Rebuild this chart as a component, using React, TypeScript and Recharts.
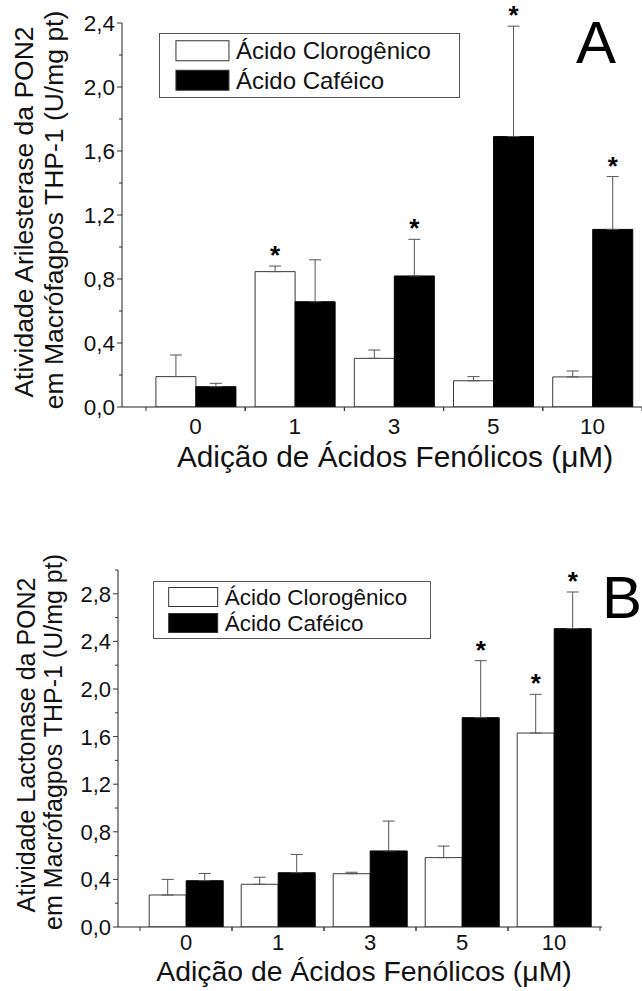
import React from 'react';
import { BarChart, Bar, XAxis, YAxis, ErrorBar, LabelList, Legend } from 'recharts';

const FONT = '"Liberation Sans", Arial, Helvetica, sans-serif';

// concentrations (µM)
const doses = ['0', '1', '3', '5', '10'];

// Panel A - arilesterase
const arilClorogenico = [0.19, 0.846, 0.304, 0.164, 0.188];
const arilClorogenicoErr = [0.135, 0.035, 0.052, 0.026, 0.037];
const arilClorogenicoSig = [false, true, false, false, false];
const arilCafeico = [0.127, 0.658, 0.819, 1.69, 1.11];
const arilCafeicoErr = [0.021, 0.262, 0.229, 0.69, 0.33];
const arilCafeicoSig = [false, false, true, true, true];
const arilTicks = [0, 0.2, 0.4, 0.6, 0.8, 1.0, 1.2, 1.4, 1.6, 1.8, 2.0, 2.2, 2.4];

// Panel B - lactonase
const lactClorogenico = [0.269, 0.359, 0.448, 0.583, 1.63];
const lactClorogenicoErr = [0.131, 0.059, 0.012, 0.097, 0.325];
const lactClorogenicoSig = [false, false, false, false, true];
const lactCafeico = [0.389, 0.456, 0.639, 1.759, 2.507];
const lactCafeicoErr = [0.061, 0.154, 0.251, 0.479, 0.308];
const lactCafeicoSig = [false, false, false, true, true];
const lactTicks = [0, 0.2, 0.4, 0.6, 0.8, 1.0, 1.2, 1.4, 1.6, 1.8, 2.0, 2.2, 2.4, 2.6, 2.8, 3.0];

const names = ['Ácido Clorogênico', 'Ácido Caféico'];

function YTick(props: any) {
  const { x, y, payload, fs } = props;
  const v = payload.value;
  const major = Math.round(v * 10) % 4 === 0;
  return (
    <g>
      <line x1={x - (major ? 5 : 3)} x2={x} y1={y} y2={y} stroke="#333" />
      {major && (
        <text x={x - 7} y={y} dy="0.36em" textAnchor="end" fontSize={fs} fontFamily={FONT} fill="#111">
          {v.toFixed(1).replace('.', ',')}
        </text>
      )}
    </g>
  );
}

function XTick(props: any) {
  const { x, y, payload, fs, dy, half } = props;
  return (
    <g>
      <line x1={x - half} x2={x - half} y1={y} y2={y + 4} stroke="#333" />
      <line x1={x + half} x2={x + half} y1={y} y2={y + 4} stroke="#333" />
      <text x={x} y={y + dy} textAnchor="middle" fontSize={fs} fontFamily={FONT} fill="#111">
        {payload.value}
      </text>
    </g>
  );
}

const starLabel = (values: number[], errs: number[], sig: boolean[]) => (props: any) => {
  const i = Number(props.value);
  if (!sig[i]) return null;
  const vb = props.viewBox ?? props;
  const { x, y, width, height } = vb;
  const ppu = height / values[i];
  const capY = y - errs[i] * ppu;
  return (
    <text x={x + width / 2} y={capY - 2} textAnchor="middle" fontSize={26} fontWeight="bold" fontFamily={FONT} fill="#000">
      *
    </text>
  );
};

const legendContent = (w: number, h: number, sw: number, swH: number, fs: number) => (props: any) => {
  const items = [...(props.payload || [])].sort(
    (a: any, b: any) => names.indexOf(a.value) - names.indexOf(b.value)
  );
  const rowH = (h - 2) / 2;
  return (
    <svg width={w} height={h} style={{ display: 'block' }}>
      <rect x={0.5} y={0.5} width={w - 1} height={h - 1} fill="#fff" stroke="#555" />
      {items.map((it: any, k: number) => {
        const cy = 1 + rowH * k + rowH / 2 + (k === 0 ? 1 : -1);
        const fill = it.payload?.fill ?? it.color;
        return (
          <g key={k}>
            <rect x={sw * 0.32} y={cy - swH / 2} width={sw} height={swH} fill={fill} stroke="#333" />
            <text x={sw * 0.32 + sw + 7} y={cy + fs * 0.36} fontSize={fs} fontFamily={FONT} fill="#111">
              {it.value}
            </text>
          </g>
        );
      })}
    </svg>
  );
};

interface PanelProps {
  clor: number[];
  clorErr: number[];
  clorSig: boolean[];
  caf: number[];
  cafErr: number[];
  cafSig: boolean[];
  ticks: number[];
  yMax: number;
  width: number;
  height: number;
  margin: { top: number; right: number; bottom: number; left: number };
  padLeft: number;
  padRight: number;
  half: number;
  tickFs: number;
  xTickDy: number;
  legendBox: { left: number; top: number; width: number; height: number; sw: number; swH: number; fs: number };
}

function Panel(p: PanelProps) {
  const data = doses.map((d, i) => ({
    dose: d,
    idx: i,
    clor: p.clor[i],
    clorErr: [0, p.clorErr[i]],
    caf: p.caf[i],
    cafErr: [0, p.cafErr[i]],
  }));
  const lb = p.legendBox;
  return (
    <BarChart width={p.width} height={p.height} data={data} margin={p.margin} barGap={0} barCategoryGap="10%">
      <XAxis
        dataKey="dose"
        interval={0}
        tickSize={0}
        tickMargin={0}
        tickLine={false}
        axisLine={{ stroke: '#222' }}
        height={40}
        padding={{ left: p.padLeft, right: p.padRight }}
        tick={(t: any) => <XTick {...t} fs={p.tickFs} dy={p.xTickDy} half={p.half} />}
      />
      <YAxis
        type="number"
        domain={[0, p.yMax]}
        ticks={p.ticks}
        interval={0}
        allowDataOverflow
        tickSize={0}
        tickMargin={0}
        tickLine={false}
        axisLine={{ stroke: '#222' }}
        width={60}
        tick={(t: any) => <YTick {...t} fs={p.tickFs} />}
      />
      <Legend
        layout="vertical"
        align="center"
        verticalAlign="middle"
        wrapperStyle={{ left: lb.left, top: lb.top, width: lb.width, height: lb.height }}
        content={legendContent(lb.width, lb.height, lb.sw, lb.swH, lb.fs)}
      />
      <Bar dataKey="clor" name={names[0]} fill="#ffffff" stroke="#3a3a3a" strokeWidth={1} isAnimationActive={false}>
        <ErrorBar dataKey="clorErr" width={6} stroke="#555" strokeWidth={1} direction="y" />
        <LabelList dataKey="idx" content={starLabel(p.clor, p.clorErr, p.clorSig)} />
      </Bar>
      <Bar dataKey="caf" name={names[1]} fill="#000000" stroke="#000" strokeWidth={1} isAnimationActive={false}>
        <ErrorBar dataKey="cafErr" width={6} stroke="#555" strokeWidth={1} direction="y" />
        <LabelList dataKey="idx" content={starLabel(p.caf, p.cafErr, p.cafSig)} />
      </Bar>
    </BarChart>
  );
}

export default function App() {
  return (
    <div style={{ position: 'absolute', left: 0, top: 0, width: 642, height: 991, background: '#fff' }}>
      <div style={{ position: 'absolute', left: 0, top: 0 }}>
        <Panel
          clor={arilClorogenico}
          clorErr={arilClorogenicoErr}
          clorSig={arilClorogenicoSig}
          caf={arilCafeico}
          cafErr={arilCafeicoErr}
          cafSig={arilCafeicoSig}
          ticks={arilTicks}
          yMax={2.4}
          width={642}
          height={480}
          margin={{ top: 23, right: 0, bottom: 33, left: 62 }}
          padLeft={24}
          padRight={0}
          half={49.6}
          tickFs={22.5}
          xTickDy={27}
          legendBox={{ left: 159, top: 33, width: 301, height: 65, sw: 53, swH: 20, fs: 24 }}
        />
        <svg width={642} height={480} style={{ position: 'absolute', left: 0, top: 0, pointerEvents: 'none' }}>
          <text transform="translate(33,212) rotate(-90)" textAnchor="middle" fontSize={26.5} fontFamily={FONT} fill="#111">
            Atividade Arilesterase da PON2
          </text>
          <text transform="translate(63,210) rotate(-90)" textAnchor="middle" fontSize={26.5} fontFamily={FONT} fill="#111">
            em Macrófagpos THP-1 (U/mg pt)
          </text>
          <text x={395} y={467} textAnchor="middle" fontSize={29.8} fontFamily={FONT} fill="#111">
            Adição de Ácidos Fenólicos (μM)
          </text>
          <text x={576} y={63} fontSize={60} fontFamily={FONT} fill="#000">A</text>
        </svg>
      </div>
      <div style={{ position: 'absolute', left: 0, top: 500 }}>
        <Panel
          clor={lactClorogenico}
          clorErr={lactClorogenicoErr}
          clorSig={lactClorogenicoSig}
          caf={lactCafeico}
          cafErr={lactCafeicoErr}
          cafSig={lactCafeicoSig}
          ticks={lactTicks}
          yMax={3.0}
          width={642}
          height={491}
          margin={{ top: 70, right: 40, bottom: 24, left: 58 }}
          padLeft={22}
          padRight={2}
          half={46}
          tickFs={22}
          xTickDy={23}
          legendBox={{ left: 153, top: 81, width: 278, height: 58, sw: 49, swH: 19, fs: 22.5 }}
        />
        <svg width={642} height={491} style={{ position: 'absolute', left: 0, top: 0, pointerEvents: 'none' }}>
          <text transform="translate(35,245) rotate(-90)" textAnchor="middle" fontSize={25} fontFamily={FONT} fill="#111">
            Atividade Lactonase da PON2
          </text>
          <text transform="translate(62,242) rotate(-90)" textAnchor="middle" fontSize={25} fontFamily={FONT} fill="#111">
            em Macrófagpos THP-1 (U/mg pt)
          </text>
          <text x={364} y={481} textAnchor="middle" fontSize={28.4} fontFamily={FONT} fill="#111">
            Adição de Ácidos Fenólicos (μM)
          </text>
          <text x={602} y={118} fontSize={60} fontFamily={FONT} fill="#000">B</text>
        </svg>
      </div>
    </div>
  );
}
